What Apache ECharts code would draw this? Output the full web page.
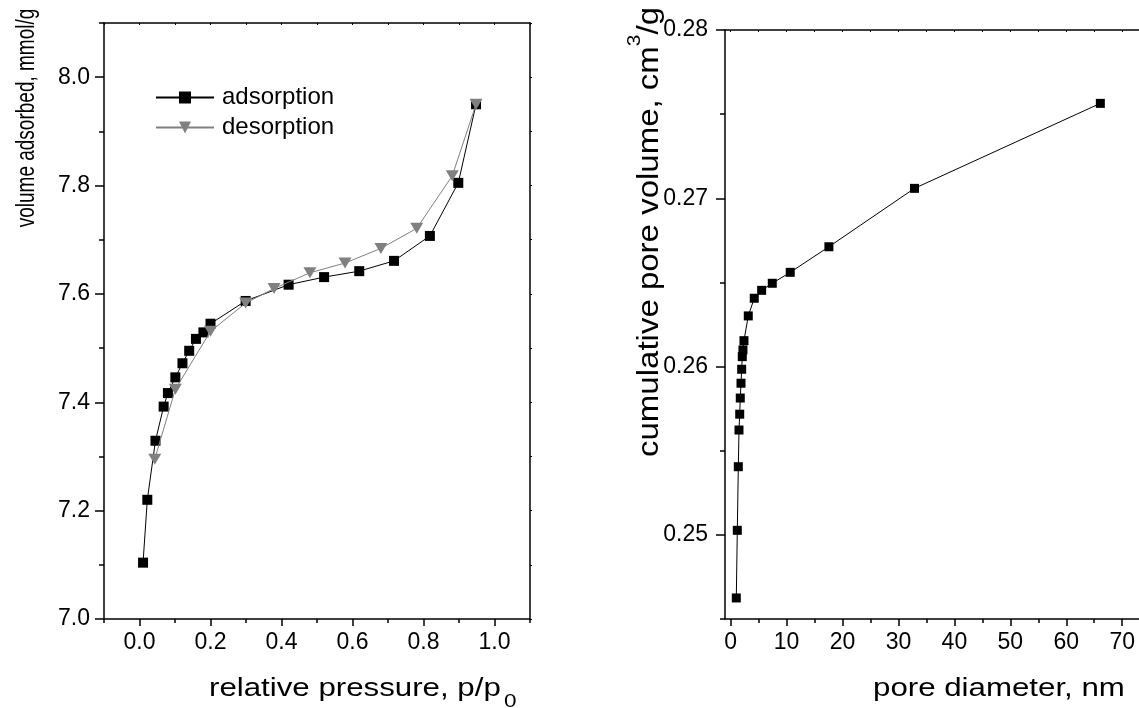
<!DOCTYPE html>
<html>
<head>
<meta charset="utf-8">
<script src="https://cdn.jsdelivr.net/npm/echarts@6/dist/echarts.min.js"></script>
<style>html,body{margin:0;padding:0;background:#fff;}#c{width:1139px;height:708px;}</style>
</head>
<body>
<div id="c"></div>
<script>
// ---- data ----
const adsX = [0.010, 0.022, 0.045, 0.068, 0.080, 0.101, 0.121, 0.140, 0.159, 0.180, 0.200, 0.299, 0.420, 0.520, 0.619, 0.717, 0.818, 0.898, 0.948];
const adsY = [7.104, 7.220, 7.329, 7.392, 7.417, 7.446, 7.472, 7.495, 7.517, 7.529, 7.545, 7.587, 7.617, 7.631, 7.642, 7.661, 7.707, 7.805, 7.950];
const desX = [0.948, 0.881, 0.781, 0.680, 0.579, 0.480, 0.379, 0.299, 0.200, 0.101, 0.043];
const desY = [7.950, 7.818, 7.721, 7.684, 7.657, 7.639, 7.610, 7.583, 7.531, 7.424, 7.295];
const poreX = [1.02, 1.20, 1.38, 1.50, 1.63, 1.73, 1.86, 1.98, 2.09, 2.21, 2.39, 3.16, 4.23, 5.55, 7.45, 10.66, 17.57, 32.87, 66.09];
const poreY = [0.24625, 0.25027, 0.25405, 0.25623, 0.25717, 0.25813, 0.25901, 0.25984, 0.26059, 0.26099, 0.26154, 0.26301, 0.26406, 0.26453, 0.26495, 0.26560, 0.26712, 0.27059, 0.27564];

// ---- tick labels ----
const xMajorL = [0.0, 0.2, 0.4, 0.6, 0.8, 1.0];
const xMinorL = [-0.1, 0.1, 0.3, 0.5, 0.7, 0.9, 1.1];
const yMajorL = [7.0, 7.2, 7.4, 7.6, 7.8, 8.0];
const yMinorL = [7.1, 7.3, 7.5, 7.7, 7.9, 8.1];
const xMajorR = [0, 10, 20, 30, 40, 50, 60, 70];
const xMinorR = [5, 15, 25, 35, 45, 55, 65];
const yMajorR = [0.25, 0.26, 0.27, 0.28];
const yMinorR = [0.245, 0.255, 0.265, 0.275];

const seriesNames = ['adsorption', 'desorption'];
const xTitleL = 'relative pressure, p/p';
const xTitleLSub = '0';
const yTitleL = 'volume adsorbed, mmol/g';
const xTitleR = 'pore diameter, nm';
const yTitleR = '{a|cumulative pore volume, cm}{p|3}{a|/g}';

const FONT = 'Liberation Sans, Arial, sans-serif';
const BLACK = '#000';
const GRAY = '#808080';

const gridL = {left: 104, top: 23, width: 426, height: 596};
const gridR = {left: 725, top: 30, width: 414, height: 589};

function axLine(show) { return {show: show, onZero: false, lineStyle: {color: BLACK, width: 1.5}}; }
const noLine = {show: false, onZero: false};
const lab = (vals, fmt, margin) => ({show: true, customValues: vals, formatter: fmt, margin: margin,
  fontSize: 23, fontFamily: FONT, color: BLACK, hideOverlap: false});
const g = (r) => Object.assign({outerBoundsMode: 'none', containLabel: false}, r);

const chart = echarts.init(document.getElementById('c'), null, {renderer: 'canvas'});
chart.setOption({
  animation: false,
  backgroundColor: '#fff',
  grid: [g(gridL), g(gridL), g(gridR), g(gridR)],
  xAxis: [
    {type: 'value', gridIndex: 0, position: 'bottom', min: -0.1, max: 1.1,
     axisLine: axLine(true), splitLine: {show: false},
     axisTick: {show: true, customValues: xMajorL, length: 7, lineStyle: {color: BLACK, width: 1.5}},
     axisLabel: lab(xMajorL, v => v.toFixed(1), 12)},
    {type: 'value', gridIndex: 0, position: 'top', min: -0.1, max: 1.1,
     axisLine: axLine(true), splitLine: {show: false},
     axisTick: {show: true, inside: true, customValues: xMinorL.concat(xMajorL), length: 2, lineStyle: {color: BLACK, width: 1}},
     axisLabel: {show: false}},
    {type: 'value', gridIndex: 1, position: 'bottom', min: -0.1, max: 1.1,
     axisLine: noLine, splitLine: {show: false},
     axisTick: {show: true, customValues: xMinorL, length: 4, lineStyle: {color: BLACK, width: 1.5}},
     axisLabel: {show: false}},
    {type: 'value', gridIndex: 2, position: 'bottom', min: -1, max: 73,
     axisLine: axLine(true), splitLine: {show: false},
     axisTick: {show: true, customValues: xMajorR, length: 7, lineStyle: {color: BLACK, width: 1.5}},
     axisLabel: lab(xMajorR, v => String(v), 12)},
    {type: 'value', gridIndex: 2, position: 'top', min: -1, max: 73,
     axisLine: axLine(true), splitLine: {show: false},
     axisTick: {show: true, inside: true, customValues: xMinorR.concat(xMajorR), length: 2, lineStyle: {color: BLACK, width: 1}},
     axisLabel: {show: false}},
    {type: 'value', gridIndex: 3, position: 'bottom', min: -1, max: 73,
     axisLine: noLine, splitLine: {show: false},
     axisTick: {show: true, customValues: xMinorR, length: 4, lineStyle: {color: BLACK, width: 1.5}},
     axisLabel: {show: false}}
  ],
  yAxis: [
    {type: 'value', gridIndex: 0, position: 'left', min: 7.0, max: 8.1,
     axisLine: axLine(true), splitLine: {show: false},
     axisTick: {show: true, customValues: yMajorL, length: 9, lineStyle: {color: BLACK, width: 1.5}},
     axisLabel: lab(yMajorL, v => v.toFixed(1), 14)},
    {type: 'value', gridIndex: 0, position: 'right', min: 7.0, max: 8.1,
     axisLine: axLine(true), splitLine: {show: false},
     axisTick: {show: true, inside: false, customValues: yMinorL.concat(yMajorL), length: 2, lineStyle: {color: BLACK, width: 1}},
     axisLabel: {show: false}},
    {type: 'value', gridIndex: 1, position: 'left', min: 7.0, max: 8.1,
     axisLine: noLine, splitLine: {show: false},
     axisTick: {show: true, customValues: yMinorL, length: 5, lineStyle: {color: BLACK, width: 1.5}},
     axisLabel: {show: false}},
    {type: 'value', gridIndex: 2, position: 'left', min: 0.245, max: 0.28,
     axisLine: axLine(true), splitLine: {show: false},
     axisTick: {show: true, customValues: yMajorR, length: 9, lineStyle: {color: BLACK, width: 1.5}},
     axisLabel: lab(yMajorR, v => v.toFixed(2), 17)},
    {type: 'value', gridIndex: 3, position: 'left', min: 0.245, max: 0.28,
     axisLine: noLine, splitLine: {show: false},
     axisTick: {show: true, customValues: yMinorR, length: 5, lineStyle: {color: BLACK, width: 1.5}},
     axisLabel: {show: false}}
  ],
  legend: {
    show: true, orient: 'vertical', left: 155, top: 85, padding: 0,
    itemGap: 5, itemWidth: 58, itemHeight: 15,
    data: seriesNames,
    textStyle: {fontSize: 24, lineHeight: 25, fontFamily: FONT, color: BLACK, padding: [0, 0, 0, 3]}
  },
  series: [
    {name: seriesNames[0], type: 'line', xAxisIndex: 0, yAxisIndex: 0,
     data: adsX.map((x, i) => [x, adsY[i]]),
     symbol: 'rect', symbolSize: 10, showAllSymbol: true,
     lineStyle: {color: BLACK, width: 1}, itemStyle: {color: BLACK}, z: 3},
    {name: seriesNames[1], type: 'line', xAxisIndex: 0, yAxisIndex: 0,
     data: desX.map((x, i) => [x, desY[i]]),
     symbol: 'triangle', symbolRotate: 180, symbolSize: [13, 11], showAllSymbol: true,
     lineStyle: {color: GRAY, width: 1}, itemStyle: {color: GRAY}, z: 4},
    {name: 'pore', type: 'line', xAxisIndex: 3, yAxisIndex: 3,
     data: poreX.map((x, i) => [x, poreY[i]]),
     symbol: 'rect', symbolSize: 9, showAllSymbol: true,
     lineStyle: {color: BLACK, width: 1}, itemStyle: {color: BLACK}}
  ],
  graphic: [
    {type: 'text', x: 209, y: 677, scaleX: 1.25, scaleY: 1,
     style: {text: xTitleL, fill: BLACK, align: 'left', verticalAlign: 'top', fontSize: 25, fontFamily: FONT}},
    {type: 'text', x: 504, y: 693, scaleX: 1.25, scaleY: 1,
     style: {text: xTitleLSub, fill: BLACK, align: 'left', verticalAlign: 'top', fontSize: 18, fontFamily: FONT}},
    {type: 'text', x: 873, y: 677, scaleX: 1.25, scaleY: 1,
     style: {text: xTitleR, fill: BLACK, align: 'left', verticalAlign: 'top', fontSize: 25, fontFamily: FONT}},
    {type: 'text', x: 27, y: 118, rotation: Math.PI / 2, scaleX: 1, scaleY: 1.35,
     style: {text: yTitleL, fill: BLACK, align: 'center', verticalAlign: 'middle', fontSize: 19, fontFamily: FONT}},
    {type: 'text', x: 645, y: 232, rotation: Math.PI / 2, scaleX: 1.1, scaleY: 1,
     style: {text: yTitleR, fill: BLACK, align: 'center', verticalAlign: 'middle',
       rich: {a: {fontSize: 30, fontFamily: FONT, fill: BLACK, lineHeight: 40, verticalAlign: 'bottom'},
              p: {fontSize: 19, fontFamily: FONT, fill: BLACK, lineHeight: 20, verticalAlign: 'top'}}}}
  ]
});
</script>
</body>
</html>
